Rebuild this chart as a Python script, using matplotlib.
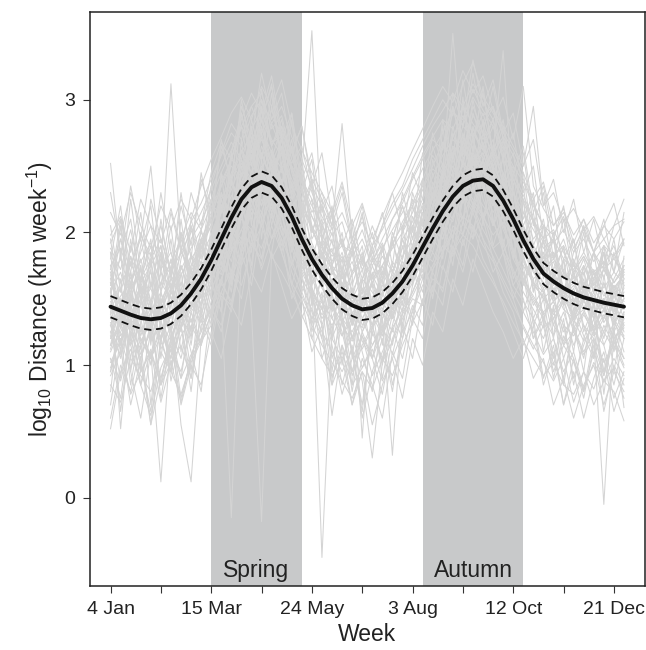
import matplotlib
matplotlib.use("Agg")
import matplotlib.pyplot as plt
import numpy as np

plt.rcParams['font.family'] = ['Liberation Sans', 'DejaVu Sans']
plt.rcParams['mathtext.fontset'] = 'custom'
plt.rcParams['mathtext.rm'] = 'Liberation Sans'
plt.rcParams['mathtext.it'] = 'Liberation Sans:italic'

weeks = list(range(1, 53))
tick_weeks = [1, 11, 21, 31, 41, 51]
tick_labels = ["4 Jan", "15 Mar", "24 May", "3 Aug", "12 Oct", "21 Dec"]
minor_weeks = [6, 16, 26, 36, 46]
y_ticks = [0, 1, 2, 3]
seasons = ["Spring", "Autumn"]
season_start = [11, 32]
season_end = [20, 42]

mean_fit = [1.44, 1.41, 1.38, 1.355, 1.345, 1.355, 1.39, 1.45, 1.54, 1.65,
            1.79, 1.95, 2.11, 2.25, 2.34, 2.38, 2.35, 2.26, 2.12, 1.95,
            1.80, 1.68, 1.58, 1.50, 1.45, 1.42, 1.43, 1.47, 1.54, 1.63,
            1.75, 1.89, 2.03, 2.16, 2.27, 2.35, 2.39, 2.40, 2.35, 2.24,
            2.10, 1.94, 1.80, 1.69, 1.63, 1.58, 1.54, 1.51, 1.49, 1.47,
            1.455, 1.44]
ci_half = [0.08] * 52

individuals = """
1.52 1.30 1.61 1.22 1.45 1.18 1.56 1.40 1.72 1.55 1.98 2.21 2.05 2.48 2.62 2.30 2.55 2.12 2.35 1.88 1.70 1.92 1.45 1.62 1.38 1.55 1.30 1.62 1.48 1.75 1.90 2.10 1.95 2.42 2.30 2.65 2.48 2.52 2.20 2.41 1.95 2.05 1.72 1.85 1.50 1.70 1.42 1.58 1.35 1.62 1.40 1.55
1.05 0.88 1.20 0.95 1.10 0.72 1.02 1.15 0.90 1.30 1.42 1.65 1.85 2.02 1.90 2.15 1.95 2.05 1.70 1.52 1.35 1.48 1.20 1.05 1.22 0.98 1.15 1.30 1.08 1.40 1.52 1.68 1.85 1.72 2.05 1.98 2.20 2.02 1.88 1.95 1.60 1.48 1.35 1.20 1.42 1.05 1.28 1.10 1.25 0.92 1.18 1.05
1.92 2.10 1.75 1.98 1.82 2.05 1.70 1.95 2.15 2.02 2.35 2.60 2.82 2.70 2.95 3.05 2.78 2.88 2.55 2.40 2.25 2.05 2.18 1.90 1.85 2.02 1.78 1.95 2.10 2.22 2.40 2.55 2.70 2.62 2.90 2.85 3.08 2.92 2.80 2.65 2.50 2.38 2.20 2.05 1.98 2.12 1.88 2.02 1.85 1.95 1.80 1.92
1.20 1.65 0.95 1.48 1.72 1.05 1.60 1.25 1.85 1.40 2.05 1.75 2.40 2.15 2.80 1.95 2.62 2.30 1.85 2.20 1.55 1.20 1.75 1.35 0.85 1.48 1.60 1.15 1.72 1.45 2.05 1.80 2.35 2.10 2.60 2.25 2.75 2.05 2.50 1.90 2.20 1.62 1.85 1.30 1.70 1.45 1.10 1.62 1.25 1.50 0.95 1.40
1.35 1.50 1.28 1.12 1.40 1.55 1.30 1.62 1.45 1.70 1.88 2.10 1.65 2.20 1.40 -0.18 1.85 2.30 2.05 1.72 1.90 1.60 1.42 1.55 1.30 1.48 1.62 1.35 1.50 1.78 1.65 1.95 2.15 2.02 2.40 2.28 2.55 2.35 2.20 2.45 2.05 1.80 1.65 1.72 1.48 1.60 1.35 1.52 1.40 1.25 1.48 1.30
1.62 1.45 1.78 1.55 1.30 1.48 1.65 1.52 1.80 1.92 2.05 2.25 2.40 2.55 2.30 2.65 2.48 2.20 2.38 2.00 1.62 -0.45 1.25 1.70 1.45 1.58 1.35 1.52 1.75 1.60 1.90 2.15 2.05 2.32 2.50 2.38 2.60 2.45 2.55 2.30 2.15 2.02 1.85 1.70 1.78 1.55 1.62 1.48 1.70 1.52 1.60 1.45
1.25 1.40 1.15 1.32 1.48 1.20 1.38 1.55 1.42 1.68 1.85 1.72 2.10 2.28 2.42 2.20 2.55 2.35 2.62 2.45 3.52 1.95 1.70 1.82 1.55 1.40 1.62 1.48 1.35 1.58 1.72 1.95 1.85 2.20 2.10 2.45 2.30 2.50 2.40 2.15 2.30 1.95 1.78 1.60 1.72 1.50 1.45 1.62 1.38 1.50 1.32 1.45
1.72 1.95 1.60 1.85 2.05 1.70 3.12 1.88 1.65 1.92 2.15 2.38 2.55 2.80 2.65 2.92 2.70 2.58 2.40 2.22 2.05 1.90 1.78 1.95 1.70 1.82 1.65 1.75 1.92 2.05 2.20 2.35 2.50 2.68 2.55 2.80 2.72 2.90 2.62 2.45 2.30 2.15 2.02 1.88 1.95 1.80 1.72 1.85 1.70 1.78 1.62 1.75
1.10 1.28 1.45 1.20 1.05 1.32 1.18 1.40 1.55 1.38 1.62 1.85 2.02 1.90 2.25 2.40 2.18 2.30 2.05 1.80 1.62 1.75 1.50 1.38 1.55 1.30 1.42 1.25 1.50 1.62 1.85 2.08 2.25 2.42 3.50 2.55 2.70 2.48 2.62 3.37 2.20 2.05 1.75 1.62 1.48 1.55 1.35 1.42 1.25 1.38 1.20 1.32
1.48 1.22 1.35 0.85 1.10 0.12 1.25 1.05 1.40 1.52 1.70 1.95 1.78 2.12 2.35 2.20 2.45 2.05 1.92 1.70 1.55 1.42 1.65 1.30 1.18 1.35 1.48 1.22 1.40 1.55 1.70 1.88 2.02 1.95 2.25 2.42 2.30 2.55 2.28 2.10 1.95 1.82 1.60 1.52 1.38 1.50 1.25 1.40 1.55 1.32 1.45 1.20
1.55 1.70 1.42 1.60 1.28 1.45 1.62 1.38 1.55 1.72 1.90 2.05 2.28 2.15 2.45 2.60 2.38 2.25 2.10 1.95 1.80 1.65 1.52 1.40 1.58 1.35 1.50 1.65 1.42 1.70 1.85 2.02 2.20 2.35 2.28 2.52 2.45 2.30 2.40 2.25 2.05 1.88 1.72 1.55 1.68 1.45 1.58 1.30 1.20 -0.05 1.25 1.40
1.30 1.15 1.42 1.28 1.05 1.22 1.38 1.50 1.32 1.60 1.75 1.50 -0.15 1.85 2.20 2.35 2.15 2.40 2.02 1.85 1.68 1.50 1.62 1.35 1.25 1.42 1.30 1.55 1.68 1.50 1.78 1.92 2.12 2.05 2.30 2.22 2.48 2.35 2.15 2.28 1.98 1.75 1.62 1.50 1.58 1.42 1.35 1.50 1.28 1.42 1.35 1.22
2.15 1.98 2.30 2.05 1.88 2.20 2.02 2.25 2.10 2.35 2.55 2.72 2.90 3.02 2.85 3.10 2.95 3.15 2.80 2.62 2.45 2.30 2.15 2.38 2.05 2.22 1.95 2.12 2.30 2.45 2.62 2.78 2.95 3.10 2.98 3.22 3.05 3.18 2.92 2.80 2.65 2.50 2.95 2.20 2.30 2.08 2.18 2.02 2.12 1.95 2.05 2.10
0.92 1.10 0.78 0.95 1.12 0.85 1.02 0.72 1.05 1.20 1.38 1.55 1.72 1.60 1.88 2.05 1.82 1.70 1.55 1.38 1.20 1.05 0.92 1.10 0.85 0.98 1.12 0.88 1.05 1.25 1.40 1.60 1.75 1.90 1.82 2.08 1.95 2.15 1.88 1.72 1.55 1.40 1.25 1.08 1.20 0.95 1.10 0.82 1.02 0.88 0.98 0.75
1.68 1.35 1.82 1.50 1.25 1.70 1.45 1.88 1.60 2.02 1.75 2.30 2.08 2.62 2.45 2.85 2.52 2.70 2.28 2.45 1.95 2.10 1.68 1.85 1.55 1.72 1.40 1.65 1.92 1.70 2.12 1.95 2.38 2.20 2.65 2.42 2.80 2.55 2.70 2.35 2.50 2.15 1.95 2.05 1.72 1.88 1.62 1.80 1.55 1.72 1.58 1.68
1.40 0.65 1.25 1.05 0.55 1.18 0.95 1.30 0.80 1.45 1.62 1.40 1.95 2.15 1.75 2.40 2.22 1.90 2.10 1.65 1.40 1.20 0.85 1.35 1.10 0.70 1.25 1.05 1.38 1.20 1.60 1.85 1.70 2.05 2.25 1.98 2.35 2.10 2.25 1.85 1.70 1.50 1.20 1.35 0.90 1.22 1.05 0.75 1.15 0.92 1.28 0.68
1.85 1.62 1.75 1.95 1.58 1.80 1.68 1.52 1.75 1.88 2.12 2.35 2.50 2.42 2.70 2.55 2.82 2.62 2.48 2.30 2.12 1.98 1.85 1.72 1.90 1.65 1.78 1.92 1.70 1.95 2.08 2.25 2.42 2.58 2.70 2.62 2.88 2.75 2.60 2.72 2.40 2.25 2.08 1.92 1.80 1.95 1.70 1.82 1.68 1.75 1.90 1.65
0.95 1.25 1.40 1.18 1.32 1.50 0.88 1.22 1.35 1.15 1.55 1.78 1.62 1.95 2.18 2.05 2.30 1.98 2.15 1.72 1.58 1.35 1.48 1.25 0.92 1.15 1.30 1.02 1.28 1.42 1.55 1.75 1.90 2.10 1.95 2.28 2.15 2.40 2.05 2.22 1.85 1.70 1.45 1.58 1.30 1.18 1.42 1.22 1.05 1.30 1.15 1.38
1.58 0.52 1.35 1.62 1.45 1.20 1.55 1.38 1.72 1.50 1.92 2.15 2.38 2.25 2.58 2.72 2.45 2.60 2.35 2.18 1.92 1.75 1.88 1.55 1.68 0.45 1.52 1.40 1.65 1.82 1.95 2.22 2.08 2.45 2.35 2.62 2.50 2.68 2.42 2.30 2.12 1.95 1.78 1.85 1.60 1.72 1.48 1.62 1.50 1.35 1.58 1.42
1.38 1.52 1.62 1.45 1.58 1.35 1.48 1.68 1.82 1.70 1.95 2.18 2.32 2.52 2.40 2.48 2.62 2.38 2.22 2.05 1.88 1.72 1.60 1.48 1.35 1.52 1.45 1.60 1.55 1.72 1.88 2.05 2.18 2.30 2.45 2.40 2.52 2.60 2.35 2.20 2.10 1.92 1.82 1.70 1.62 1.55 1.48 1.60 1.52 1.42 1.55 1.48
1.15 1.32 0.98 1.20 1.05 1.28 1.10 1.35 1.22 1.48 1.65 1.82 2.05 1.92 2.28 2.15 2.40 2.20 1.95 1.78 1.50 1.30 0.62 1.15 0.95 1.22 1.05 0.78 1.20 1.38 1.55 1.72 1.95 1.85 2.12 2.30 2.18 2.42 2.25 2.05 1.88 1.62 1.48 1.35 1.22 1.40 1.15 1.30 1.08 1.25 1.12 1.30
1.75 1.88 1.65 1.78 1.92 1.72 1.85 1.60 1.95 2.08 2.25 2.45 2.62 2.80 2.95 2.75 2.92 2.70 2.52 2.65 2.30 2.12 1.98 2.08 1.82 1.95 1.75 1.88 2.02 2.15 2.32 2.48 2.62 2.75 2.92 2.80 3.02 2.88 2.95 2.72 2.58 2.40 2.22 2.05 1.92 2.02 1.85 1.95 1.78 1.90 1.82 1.95
1.45 1.28 1.52 1.35 1.62 1.40 1.25 1.48 1.60 1.78 1.72 2.00 2.22 2.38 2.55 2.42 2.30 2.48 2.15 2.00 1.85 1.70 1.55 1.62 1.40 1.28 1.50 1.35 0.32 1.42 1.68 1.82 2.05 2.20 2.38 2.50 2.42 2.35 2.48 2.20 2.02 1.85 1.70 1.58 1.65 1.50 1.38 1.55 1.45 1.62 1.38 1.50
1.02 1.18 1.35 1.08 1.25 0.90 1.15 1.30 1.48 1.32 1.58 1.72 1.92 2.10 2.02 2.25 2.12 2.35 2.00 1.82 1.65 1.48 1.35 1.22 1.40 1.18 1.05 1.25 1.38 1.52 1.65 1.85 1.78 2.00 2.18 2.10 2.32 2.20 2.08 1.90 1.72 1.55 1.42 1.28 1.35 1.15 1.25 1.08 1.20 1.02 1.15 0.98
2.52 1.80 2.35 1.95 2.50 1.70 2.15 1.85 2.30 2.05 2.45 2.68 2.55 2.85 3.05 2.90 3.18 2.75 2.60 2.80 2.40 2.25 2.05 2.30 1.90 2.12 1.85 2.05 2.22 2.35 2.55 2.70 2.85 3.00 2.88 3.12 3.28 3.02 2.90 2.75 2.62 2.45 2.25 2.38 2.05 2.18 1.92 2.10 1.85 2.05 2.22 1.90
1.62 1.48 1.35 1.55 1.70 1.42 1.58 1.75 1.52 1.68 1.85 2.02 2.20 2.35 2.28 2.50 2.38 2.15 2.28 1.92 1.75 1.85 1.62 1.72 1.50 1.65 1.55 1.42 1.60 1.75 1.70 1.98 2.12 2.28 2.40 2.32 2.58 2.45 2.38 2.18 2.05 1.92 1.75 1.82 1.65 1.52 1.60 1.48 1.65 1.55 1.40 1.58
0.52 0.95 1.12 0.85 0.62 0.98 1.15 0.90 1.08 1.25 1.42 1.30 1.65 1.85 2.00 1.88 2.12 1.95 1.75 1.60 1.42 1.25 1.10 0.95 1.12 0.88 0.30 1.02 1.18 1.35 1.50 1.45 1.72 1.85 1.98 2.12 2.05 1.90 1.78 1.62 1.45 1.30 1.15 1.02 0.88 1.05 0.72 0.95 0.82 1.05 0.65 0.90
1.30 1.45 1.58 1.72 1.38 1.62 1.50 1.35 1.68 1.82 1.98 2.15 2.42 2.60 2.75 2.58 2.40 2.65 2.48 2.20 2.02 1.85 1.72 1.60 1.48 1.55 1.68 1.52 1.78 1.65 1.85 2.10 2.28 2.45 2.60 2.72 2.55 2.65 2.48 2.30 2.15 1.98 1.82 1.70 1.55 1.68 1.50 1.42 1.58 1.45 1.60 1.52
1.50 2.05 1.30 1.75 1.15 1.85 1.42 2.10 1.55 1.95 1.65 2.45 2.20 2.90 2.50 3.08 2.65 2.35 2.85 2.10 2.40 1.80 2.15 1.55 1.90 1.45 1.80 1.62 1.95 2.20 1.88 2.40 2.15 2.68 2.45 2.95 2.62 3.10 2.55 2.80 2.30 2.05 2.25 1.80 1.95 1.55 1.78 1.42 1.65 1.85 1.50 1.72
1.22 1.08 1.35 1.50 1.18 1.30 1.05 1.28 1.42 1.58 1.75 1.92 1.85 2.15 2.30 2.48 2.22 2.05 1.88 1.65 1.52 1.38 1.45 1.22 1.35 1.12 1.28 1.40 1.25 1.48 1.62 1.80 1.98 2.15 2.08 2.35 2.22 2.10 2.25 2.02 1.85 1.65 1.52 1.40 1.48 1.30 1.22 1.38 1.25 1.15 1.32 1.20
1.88 1.72 2.02 1.65 1.80 1.95 1.70 1.85 2.00 2.15 2.32 2.50 2.68 2.55 2.78 2.92 2.65 2.80 2.60 2.38 2.20 2.05 1.92 1.78 1.95 1.72 1.85 1.68 1.90 2.08 2.22 2.40 2.58 2.45 2.72 2.88 2.75 2.62 2.80 2.55 2.40 2.22 2.08 1.95 1.82 1.90 1.75 1.68 1.85 1.72 1.80 1.70
0.85 0.72 1.05 0.92 0.80 1.10 0.95 0.78 1.02 1.18 1.30 1.52 1.45 1.75 1.92 1.80 2.05 1.85 1.62 1.48 1.30 1.15 1.02 0.88 0.75 0.95 0.82 1.05 0.92 1.15 1.32 1.48 1.65 1.58 1.85 1.98 1.90 1.75 1.62 1.48 1.32 1.18 1.05 0.92 1.02 0.85 0.78 0.95 0.70 0.88 0.80 0.58
1.65 1.80 1.55 1.72 1.48 1.62 1.78 1.95 1.70 1.88 2.05 2.28 2.15 2.42 2.58 2.70 2.52 2.38 2.50 2.25 2.02 1.88 1.75 1.65 1.78 1.55 1.68 1.82 1.70 1.88 2.05 2.18 2.35 2.52 2.42 2.68 2.58 2.45 2.62 2.38 2.20 2.05 1.90 1.78 1.85 1.70 1.62 1.75 1.60 1.72 1.58 1.68
1.32 1.18 1.45 1.25 1.40 1.12 1.30 0.55 0.12 1.20 1.48 1.65 1.85 2.02 2.18 2.05 2.28 2.12 1.90 1.75 1.58 1.42 1.30 1.45 1.20 1.35 1.15 1.28 1.42 1.55 1.72 1.88 2.05 1.95 2.20 2.35 2.25 2.12 1.98 2.08 1.80 1.65 1.50 1.38 1.48 1.25 1.35 1.18 1.30 1.42 1.20 1.28
1.98 2.12 1.85 2.25 2.05 1.92 2.18 1.88 2.08 2.22 2.40 2.58 2.75 2.65 2.88 3.00 2.82 2.95 2.72 2.55 2.35 2.20 2.02 2.15 1.95 2.08 1.90 2.02 2.18 2.32 2.48 2.65 2.80 2.92 3.05 2.95 3.12 2.98 2.85 3.02 2.70 3.10 2.35 2.18 2.05 2.15 1.98 2.10 1.92 2.05 1.95 2.08
1.42 1.58 1.30 1.45 1.22 1.38 1.52 1.28 1.45 1.62 1.80 1.68 1.95 2.22 2.10 2.38 2.52 2.28 2.12 1.95 1.72 1.58 1.45 1.32 1.48 1.25 1.40 1.55 1.35 1.60 1.78 1.70 2.00 2.18 2.32 2.25 2.48 2.40 2.28 2.12 2.00 1.80 1.62 1.50 1.40 1.55 1.32 1.48 1.38 1.50 1.30 1.45
1.12 1.38 1.25 1.05 1.30 1.48 1.20 1.42 1.28 1.55 1.68 1.88 2.05 1.95 2.32 2.45 2.28 2.50 2.18 2.05 1.85 1.62 1.75 1.48 1.32 1.50 1.38 1.22 1.45 1.62 1.80 1.95 2.12 2.28 2.20 2.45 2.38 2.55 2.30 2.15 2.02 1.78 1.62 1.55 1.35 1.48 1.28 1.40 1.22 1.35 1.48 1.25
1.55 1.38 1.62 1.80 1.48 1.70 1.58 1.85 1.72 1.95 2.12 2.35 2.55 2.48 2.70 2.85 2.68 2.72 2.50 2.38 2.15 2.30 2.05 2.82 1.95 1.80 2.05 1.85 2.10 2.25 2.42 2.58 2.72 2.85 2.78 2.95 2.82 2.70 2.85 2.60 2.45 2.28 2.10 1.95 2.02 1.85 1.70 1.82 1.65 1.78 1.62 1.72
0.98 1.20 0.70 1.05 1.28 0.85 1.12 0.95 1.30 1.15 1.40 1.62 1.48 1.80 2.02 1.72 1.95 2.15 1.80 1.55 1.35 1.50 1.15 0.78 1.05 1.22 0.92 1.10 1.28 1.05 1.42 1.65 1.52 1.85 2.02 1.90 2.15 1.95 1.82 1.65 1.50 1.28 1.12 1.30 0.95 1.15 1.02 0.80 1.10 0.88 1.05 0.92
1.70 1.55 1.82 1.62 1.75 1.90 1.58 1.72 1.88 2.02 2.20 2.15 2.45 2.62 2.50 2.78 2.60 2.48 2.65 2.32 2.12 1.95 1.82 1.90 1.68 1.80 1.62 1.75 1.88 2.00 2.15 2.32 2.48 2.40 2.65 2.58 2.78 2.62 2.50 2.35 2.18 2.00 1.88 1.72 1.80 1.65 1.75 1.60 1.72 1.58 1.70 1.62
1.85 1.10 1.62 0.95 1.78 1.25 1.05 1.70 1.20 1.95 1.50 2.45 1.85 2.70 2.05 2.95 2.20 2.75 1.90 2.35 1.45 1.95 1.20 1.75 1.05 1.65 1.22 1.90 1.35 2.05 1.60 2.40 1.95 2.80 2.25 3.02 2.40 2.85 2.05 2.60 1.80 2.25 1.55 1.95 1.20 1.80 1.35 1.75 1.05 1.68 1.25 1.82
0.80 1.45 1.05 1.60 0.70 1.35 0.95 1.55 1.15 1.70 1.35 1.92 1.60 2.30 1.85 2.55 2.05 2.40 1.75 2.10 1.30 1.70 0.95 1.50 1.10 0.65 1.30 1.00 1.55 1.25 1.75 1.45 2.10 1.80 2.45 2.05 2.65 2.10 2.45 1.85 2.00 1.40 1.65 1.10 1.45 0.85 1.30 0.95 1.50 0.78 1.35 1.10
2.05 1.55 2.25 1.70 1.45 2.10 1.65 2.30 1.80 2.45 2.05 2.70 2.35 3.00 2.60 2.85 3.12 2.50 2.90 2.30 2.55 1.95 2.20 1.70 2.05 1.55 1.90 2.15 1.75 2.30 2.00 2.60 2.25 2.85 2.55 3.15 2.70 3.05 2.60 2.85 2.35 2.60 2.05 2.30 1.80 2.10 1.65 2.00 1.55 1.90 1.70 2.15
1.25 0.90 1.55 1.15 1.40 0.75 1.20 1.45 0.95 1.60 1.30 1.85 1.55 2.15 1.70 2.35 1.95 2.20 1.60 1.90 1.25 1.55 1.05 1.35 0.80 1.25 1.45 0.90 1.30 1.60 1.35 1.80 1.55 2.05 1.75 2.30 1.95 2.50 2.10 1.85 1.60 1.75 1.30 1.50 1.05 1.35 0.85 1.20 1.40 0.95 1.25 1.05
1.60 2.10 1.45 1.90 2.20 1.55 1.95 1.40 2.05 1.75 2.25 1.95 2.60 2.25 2.85 2.55 3.05 2.45 2.70 2.15 2.35 1.80 2.05 1.55 1.85 2.15 1.60 1.90 1.45 2.00 2.25 1.90 2.55 2.30 2.80 2.50 3.00 2.65 2.85 2.40 2.60 2.10 2.30 1.75 2.00 1.55 1.85 2.05 1.60 1.90 1.45 1.75
1.15 1.50 0.85 1.30 1.05 1.55 1.25 0.90 1.40 1.15 1.65 1.40 2.00 1.75 2.25 2.05 2.40 1.85 2.15 1.55 1.80 1.30 1.55 1.00 1.35 1.10 0.80 1.40 1.15 1.55 1.30 1.80 1.50 2.05 1.85 2.25 2.00 2.35 1.90 2.15 1.65 1.85 1.35 1.55 1.20 0.90 1.30 1.05 1.45 1.15 0.85 1.20
1.75 1.30 1.95 1.50 1.80 1.35 1.65 2.00 1.55 1.85 2.10 1.80 2.40 2.15 2.70 2.40 2.95 2.60 2.30 2.55 2.00 2.25 1.75 2.00 1.50 1.80 1.35 1.70 1.95 1.60 2.20 1.95 2.45 2.20 2.75 2.50 2.90 2.65 2.40 2.70 2.20 2.45 1.90 2.10 1.65 1.90 1.45 1.75 1.55 1.85 1.40 1.65
0.70 1.20 0.95 0.60 1.10 0.85 1.30 0.75 1.05 1.35 1.15 1.55 1.40 1.85 1.60 2.10 1.80 1.95 1.50 1.70 1.20 1.45 0.90 1.15 0.70 1.05 0.85 0.60 1.10 0.90 1.35 1.20 1.60 1.45 1.90 1.70 2.05 1.80 1.65 1.45 1.25 1.05 1.30 0.85 1.10 0.70 0.95 0.60 0.90 1.10 0.75 0.95
1.40 1.85 1.20 1.65 1.95 1.35 1.75 1.50 1.25 1.90 1.65 2.20 1.90 2.50 2.25 2.75 2.45 2.65 2.10 2.40 1.80 2.05 1.55 1.80 1.30 1.65 1.90 1.45 1.70 1.95 1.75 2.15 1.95 2.45 2.20 2.70 2.40 2.85 2.50 2.65 2.15 2.35 1.80 2.05 1.50 1.80 1.30 1.70 1.45 1.85 1.35 1.60
1.95 1.40 1.70 2.15 1.60 1.90 1.35 1.80 2.05 1.60 2.25 2.00 2.55 2.80 2.40 3.00 2.65 2.85 2.45 2.20 2.40 1.95 2.15 1.65 1.90 1.45 1.75 1.55 2.00 1.80 2.30 2.05 2.65 2.40 2.95 2.65 3.20 2.80 2.95 2.55 2.75 2.30 2.50 1.95 2.20 1.70 1.95 1.55 1.85 1.65 1.95 1.50
1.05 0.75 1.30 1.00 0.65 1.20 0.95 1.40 1.10 0.80 1.45 1.25 1.70 1.50 1.95 1.75 2.15 1.85 1.60 1.35 1.55 1.05 1.30 0.85 1.15 0.60 0.95 1.20 0.80 1.30 1.05 1.50 1.30 1.75 1.55 1.95 1.70 2.10 1.80 1.55 1.40 1.15 1.35 0.90 1.15 0.70 1.05 0.80 1.20 0.65 1.00 0.85
1.55 1.95 1.70 1.30 1.85 1.60 2.05 1.45 1.75 2.00 1.85 2.30 2.10 2.55 2.35 2.80 2.50 2.35 2.65 2.05 2.25 1.70 1.95 1.45 1.70 1.90 1.40 1.75 1.55 1.95 1.70 2.20 2.00 2.50 2.25 2.75 2.45 2.60 2.35 2.55 2.05 2.25 1.75 1.95 1.55 1.80 1.95 1.50 1.70 1.45 1.85 1.60
1.30 1.05 1.50 1.75 1.20 1.45 1.70 1.10 1.55 1.35 1.80 1.60 2.10 1.85 2.35 2.10 2.60 2.25 2.00 2.20 1.65 1.85 1.40 1.60 1.20 1.45 1.70 1.25 1.60 1.40 1.85 1.65 2.05 1.85 2.35 2.10 2.55 2.25 2.05 2.30 1.85 2.00 1.55 1.75 1.30 1.50 1.70 1.25 1.45 1.20 1.55 1.35
1.70 1.45 1.15 1.65 1.90 1.40 1.25 1.75 1.50 1.95 1.70 2.25 2.00 2.35 2.65 2.30 2.55 2.80 2.35 2.50 2.05 1.80 2.00 1.60 1.85 1.40 1.65 1.90 1.50 1.80 2.05 1.85 2.30 2.10 2.55 2.35 2.70 2.45 2.60 2.25 2.45 1.95 2.15 1.70 1.95 1.45 1.70 1.50 1.85 1.40 1.65 1.80
0.95 1.35 1.15 0.85 1.25 1.50 1.00 1.30 0.90 1.40 1.20 1.65 1.45 1.90 2.15 1.80 2.25 2.00 1.75 1.95 1.45 1.65 1.20 1.40 0.95 1.25 1.05 1.35 0.85 1.20 1.45 1.30 1.70 1.55 1.95 1.75 2.20 1.95 1.70 1.85 1.50 1.70 1.20 1.40 1.00 1.30 0.90 1.15 1.35 0.95 1.20 1.00
2.30 1.85 2.10 1.60 2.25 1.95 1.70 2.20 1.90 2.40 2.15 2.65 2.40 2.95 2.70 3.20 2.85 3.05 2.60 2.80 2.35 2.60 2.10 2.35 1.95 2.20 1.80 2.05 2.30 2.00 2.45 2.25 2.75 2.50 3.05 2.80 3.30 2.95 3.15 2.75 2.90 2.50 2.70 2.20 2.40 2.00 2.25 1.85 2.10 1.75 2.05 2.25
1.45 1.15 1.70 1.35 1.00 1.55 1.80 1.30 1.60 1.25 1.75 1.95 1.70 2.20 1.95 2.45 2.15 2.35 1.90 2.10 1.60 1.85 1.35 1.55 1.20 1.50 1.05 1.40 1.65 1.30 1.75 1.55 1.95 2.25 1.95 2.45 2.20 2.55 2.25 2.05 1.85 1.60 1.80 1.35 1.55 1.15 1.40 1.65 1.25 1.50 1.10 1.35
1.80 2.20 1.60 2.00 1.75 2.30 1.85 1.55 2.10 1.80 2.35 2.15 2.60 2.90 2.55 2.85 3.10 2.70 2.90 2.40 2.60 2.15 2.35 1.90 2.10 1.75 2.00 1.65 1.95 2.20 1.95 2.40 2.20 2.65 2.95 2.60 2.95 2.75 3.10 2.70 2.45 2.65 2.15 2.35 1.95 2.20 1.75 2.05 1.85 2.10 1.70 1.95
0.60 1.00 0.80 1.15 0.55 0.90 1.20 0.70 1.00 0.85 1.25 1.05 1.45 1.30 1.70 1.55 1.85 1.60 1.35 1.50 1.10 1.30 0.85 1.05 0.70 0.95 0.55 0.85 1.05 0.75 1.20 1.00 1.40 1.25 1.65 1.45 1.80 1.60 1.40 1.25 1.05 1.20 0.90 1.05 0.70 0.90 0.60 0.85 1.00 0.70 0.95 0.80
1.65 1.35 1.90 1.60 1.40 1.85 1.55 2.00 1.70 1.45 1.95 2.20 1.95 2.45 2.25 2.60 2.40 2.70 2.25 2.45 2.00 2.20 1.75 1.95 1.60 1.85 1.45 1.70 1.55 1.90 1.70 2.15 1.95 2.40 2.20 2.55 2.35 2.75 2.45 2.20 2.35 1.90 2.10 1.65 1.85 1.50 1.80 1.60 1.35 1.75 1.55 1.70
"""
ind_values = [[float(v) for v in row.split()] for row in individuals.strip().splitlines()]

fig = plt.figure(figsize=(6.46, 6.50), dpi=100)
ax = fig.add_axes([90 / 646, 64 / 650, 554.5 / 646, 574 / 650])

for s0, s1 in zip(season_start, season_end):
    ax.axvspan(s0, s1, color='#c8c9ca', lw=0, zorder=0)

for row in ind_values:
    ax.plot(weeks, row, color='#d4d4d4', lw=0.75, zorder=1)

mean_arr = np.array(mean_fit)
half = np.array(ci_half)
ax.plot(weeks, mean_arr + half, color='#111111', lw=1.3, ls=(0, (4, 2.6)), zorder=3)
ax.plot(weeks, mean_arr - half, color='#111111', lw=1.3, ls=(0, (4, 2.6)), zorder=3)
ax.plot(weeks, mean_arr, color='#111111', lw=2.8, zorder=4, solid_capstyle='round',
        solid_joinstyle='round')

for name, s0, s1 in zip(seasons, season_start, season_end):
    ax.text((s0 + s1) / 2, -0.595, name, ha='center', va='baseline',
            fontsize=16.5, color='#222222', zorder=5)

ax.set_xlim(-1.04, 54.04)
ax.set_ylim(-0.665, 3.661)
ax.set_xticks(tick_weeks)
ax.set_xticklabels(tick_labels)
ax.set_xticks(minor_weeks, minor=True)
ax.set_yticks(y_ticks)
ax.set_yticklabels([str(v) for v in y_ticks])
ax.tick_params(axis='both', which='both', direction='out', length=5, width=0.8,
               color='#333333', labelsize=14, labelcolor='#222222', pad=5.5)
for sp in ax.spines.values():
    sp.set_linewidth(1.1)
    sp.set_color('#222222')

ax.set_xlabel('Week', fontsize=16.5, color='#222222', labelpad=4)
ax.set_ylabel(r'log$_{\mathrm{10}}$ Distance (km week$^{\mathrm{-1}}$)', fontsize=16.5,
              color='#222222', labelpad=7)

fig.savefig('out.png', dpi=100, facecolor='white')
